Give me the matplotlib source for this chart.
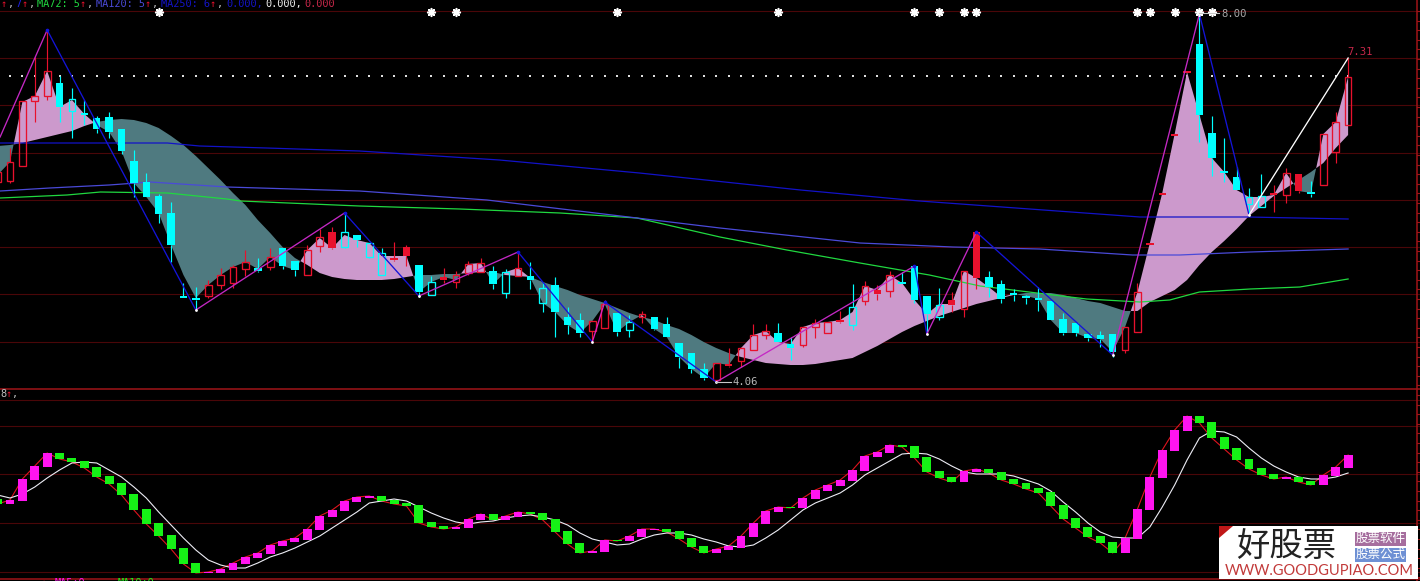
import matplotlib
matplotlib.use("Agg")
import matplotlib.pyplot as plt
from matplotlib.patches import Polygon, Rectangle
import numpy as np

body_top = [172, 162, 101, 96, 71, 83, 99, 113, 118, 117, 129, 161, 182, 196, 213, 296, 298, 285, 275, 267, 262, 268, 257, 248, 261, 250, 237, 232, 232, 235,
            243, 253, 258, 247, 265, 282, 277, 275, 264, 263, 271, 272, 268, 276, 288, 285, 317, 320, 321, 304, 313, 322, 314, 317, 324, 343, 353, 369, 363, 364,
            348, 335, 331, 333, 344, 327, 323, 322, 320, 307, 286, 290, 275, 282, 266, 296, 305, 300, 271, 232, 277, 284, 293, 296, 298, 301, 319, 323, 334, 335,
            334, 327, 292, 243, 193, 134, 71, 44, 133, 171, 177, 197, 196, 193, 173, 174, 192, 134, 122, 77]
body_bot = [182, 181, 166, 101, 96, 107, 111, 115, 129, 132, 151, 183, 197, 214, 245, 298, 300, 296, 285, 283, 269, 271, 267, 266, 270, 275, 246, 248, 247, 240,
            257, 275, 260, 256, 292, 295, 280, 282, 273, 272, 284, 293, 276, 280, 303, 312, 325, 333, 331, 328, 332, 330, 317, 329, 337, 357, 369, 378, 380, 366,
            361, 350, 335, 342, 348, 345, 327, 333, 322, 325, 301, 294, 291, 284, 300, 314, 317, 305, 309, 278, 287, 299, 295, 298, 300, 320, 333, 333, 338, 339,
            352, 350, 332, 245, 195, 136, 73, 115, 158, 173, 190, 204, 207, 195, 195, 191, 194, 185, 152, 125]
wick_high = [165, 148, 101, 57, 30, 76, 88, 100, 116, 112, 129, 150, 173, 194, 202, 283, 287, 280, 268, 265, 250, 258, 248, 248, 261, 245, 229, 227, 213, 235,
             243, 248, 242, 245, 265, 276, 268, 271, 261, 258, 266, 269, 252, 262, 282, 277, 307, 313, 321, 300, 313, 315, 311, 317, 317, 343, 353, 363, 363, 348,
             347, 324, 324, 323, 337, 327, 319, 322, 311, 284, 281, 285, 271, 272, 266, 296, 288, 292, 271, 232, 271, 280, 289, 295, 287, 301, 313, 323, 334, 331,
             334, 327, 283, 243, 193, 134, 71, 14, 116, 138, 167, 188, 174, 185, 168, 174, 181, 134, 112, 58]
wick_low = [185, 183, 166, 122, 100, 122, 138, 125, 133, 138, 154, 197, 197, 223, 262, 298, 310, 298, 289, 288, 276, 272, 270, 269, 276, 275, 252, 249, 248, 247,
            258, 275, 261, 266, 297, 295, 283, 288, 275, 272, 289, 298, 276, 289, 312, 337, 334, 337, 342, 328, 336, 337, 323, 330, 337, 368, 373, 380, 382, 367,
            367, 350, 339, 342, 360, 347, 338, 333, 323, 330, 305, 300, 297, 284, 303, 333, 320, 312, 317, 289, 297, 303, 301, 304, 311, 320, 335, 336, 341, 347,
            357, 353, 332, 245, 195, 136, 73, 142, 176, 182, 190, 213, 207, 212, 203, 193, 197, 185, 163, 125]
up_bars = [0, 1, 2, 3, 4, 17, 18, 19, 20, 22, 25, 26, 27, 32, 33, 36, 37, 38, 39, 42, 48, 49, 52, 58, 59, 60, 61, 62, 65, 66, 67, 68,
           70, 71, 72, 77, 78, 79, 91, 92, 93, 94, 95, 96, 103, 104, 105, 107, 108, 109]
filled_red = [27, 32, 33, 36, 59, 68, 71, 77, 79, 93, 94, 95, 96, 103, 105]
hollow_cyan = [6, 28, 30, 31, 35, 41, 44, 51, 69, 76, 101, 102]

band_fast = [175, 162, 102, 96, 71, 107, 100, 114, 125, 132, 151, 183, 197, 213, 245, 275, 298, 285, 275, 267, 262, 269, 257, 266, 270, 250, 238, 248, 235, 240,
             243, 256, 256, 256, 292, 282, 277, 280, 264, 263, 284, 272, 268, 278, 303, 312, 325, 333, 321, 304, 332, 322, 315, 329, 337, 357, 369, 378, 363, 365,
             348, 335, 331, 342, 344, 327, 323, 322, 320, 312, 286, 290, 275, 283, 300, 314, 304, 304, 271, 278, 287, 297, 294, 296, 299, 320, 333, 333, 338, 339,
             352, 327, 292, 243, 193, 134, 72, 115, 158, 172, 190, 197, 197, 195, 173, 191, 193, 134, 122, 77]
band_slow = [146, 145, 143, 140, 137, 134, 131, 126, 122, 120, 119, 120, 123, 128, 136, 145, 156, 168, 180, 193, 205, 220, 233, 247, 258, 265, 273, 277, 279, 280,
             280, 280, 279, 277, 275, 275, 274, 274, 273, 272, 272, 275, 276, 277, 282, 286, 290, 295, 299, 303, 308, 313, 317, 320, 325, 329, 335, 342, 348, 353,
             357, 360, 363, 364, 365, 365, 364, 362, 360, 358, 352, 346, 339, 332, 326, 321, 316, 312, 308, 304, 301, 298, 295, 293, 293, 293, 295, 298, 301, 303,
             307, 311, 311, 302, 296, 290, 280, 265, 252, 241, 229, 216, 206, 196, 188, 180, 172, 163, 148, 135]

ma72_idx = [0.2, 5.6, 8.3, 13.7, 18.5, 19.6, 29.2, 37.3, 45.4, 51.6, 58.3, 63.7, 69.6, 75.2, 79.3, 85.2, 87.9, 92.2, 94.6, 97, 101.1, 105.1, 109]
ma72_val = [198, 195, 192, 193, 199, 201, 206, 209, 213, 218, 237, 250, 263, 275, 286, 295, 299, 302, 300, 292, 289, 287, 279]
ma120_idx = [0.2, 4.2, 9, 12.3, 18.5, 29.2, 39.5, 51.6, 58.3, 69.6, 77.1, 84.1, 91.6, 95.4, 101.1, 109]
ma120_val = [191, 188, 185, 182, 187, 191, 200, 218, 228, 243, 247, 249, 255, 255, 252, 249]
ma250_idx = [0.2, 13.7, 16.3, 21.7, 29.2, 40.5, 51.8, 64.8, 74.4, 92.2, 100.9, 109]
ma250_val = [143, 143, 146, 148, 151, 160, 173, 190, 201, 217, 217, 219]

zig_idx = [0.2, 4, 16, 28, 34, 42, 48, 49, 58, 74, 75, 79, 90, 97, 101, 109]
zig_val = [137, 30, 310, 213, 296, 252, 342, 302, 382, 266, 334, 232, 355, 14, 215, 58]
zig_col = ["#C428C4", "#1414D8", "#C428C4", "#1414D8", "#C428C4", "#1414D8", "#E020C0", "#1414D8",
           "#C428C4", "#1414D8", "#C428C4", "#1414D8", "#C428C4", "#1414D8", "#FFFFFF"]

star_bars = [13, 35, 37, 50, 63, 74, 76, 78, 79, 92, 93, 95, 97, 98]
star_val = 12
dot_val = 76

osc_top = [499, 500, 479, 466, 453, 453, 458, 461, 467, 476, 483, 494, 509, 523, 535, 548, 563, 572, 569, 563, 557, 553, 545, 541, 538, 529, 516, 510, 501, 497,
           496, 496, 500, 503, 505, 522, 526, 527, 519, 514, 514, 516, 512, 512, 513, 519, 531, 543, 551, 540, 540, 536, 529, 529, 529, 531, 538, 546, 549, 546,
           536, 523, 511, 507, 507, 498, 490, 485, 480, 470, 456, 452, 445, 445, 446, 457, 471, 477, 471, 469, 469, 472, 479, 483, 488, 492, 505, 518, 527, 536,
           542, 538, 509, 477, 450, 430, 416, 416, 422, 437, 448, 459, 468, 474, 477, 477, 481, 475, 467, 455]
osc_bot = [504, 504, 501, 480, 467, 459, 462, 468, 477, 484, 495, 510, 524, 536, 549, 564, 573, 573, 573, 570, 564, 558, 554, 546, 542, 540, 530, 517, 511, 502,
           498, 501, 504, 506, 523, 527, 529, 529, 528, 520, 520, 520, 517, 514, 520, 532, 544, 553, 553, 552, 541, 541, 537, 530, 532, 539, 547, 553, 553, 550,
           548, 537, 524, 512, 508, 508, 499, 491, 486, 481, 471, 457, 453, 447, 458, 472, 478, 482, 482, 472, 473, 480, 484, 489, 493, 506, 519, 528, 537, 543,
           553, 553, 539, 510, 478, 451, 431, 423, 438, 449, 460, 469, 475, 479, 479, 482, 485, 485, 476, 468]
osc_green = [0, 5, 6, 7, 8, 9, 10, 11, 12, 13, 14, 15, 16, 31, 32, 33, 34, 35, 36, 40, 43, 44, 45, 46, 47, 50, 54, 55, 56, 57,
             64, 73, 74, 75, 76, 77, 80, 81, 82, 83, 84, 85, 86, 87, 88, 89, 90, 97, 98, 99, 100, 101, 102, 103, 105, 106]
osc_signal = [495, 498, 494, 487, 478, 470, 463, 462, 463, 470, 477, 487, 498, 512, 525, 538, 550, 560, 565, 568, 568, 563, 557, 553, 548, 542, 536, 528, 520, 512,
              503, 501, 499, 501, 507, 513, 518, 522, 524, 522, 521, 518, 516, 515, 517, 520, 525, 533, 539, 542, 545, 544, 539, 535, 533, 533, 535, 539, 542, 546,
              547, 545, 538, 530, 520, 510, 503, 498, 493, 485, 475, 468, 461, 454, 453, 454, 459, 466, 472, 474, 474, 474, 476, 480, 484, 491, 502, 512, 523, 532,
              537, 538, 538, 527, 507, 485, 460, 438, 431, 432, 437, 448, 458, 466, 472, 477, 479, 479, 477, 473]

main_grid = [11, 58, 105, 153, 200, 247, 294, 342]
osc_grid = [400, 426, 474, 523, 572]

W, H = 1420, 581
RED = "#E8112D"
CYAN = "#00FFFF"
GRID = "#4A0608"
FRAME = "#A01418"
MONO = "DejaVu Sans Mono"


def add_axes(top, bottom):
    ax = fig.add_axes([0, 1 - bottom / H, 1, (bottom - top) / H])
    ax.set_facecolor("black")
    # bar k sits at -2.4 + 12.39 k on the picture
    ax.set_xlim(2.4 / 12.39, (W + 2.4) / 12.39)
    ax.set_ylim(bottom, top)
    ax.axis("off")
    return ax


fig = plt.figure(figsize=(W / 100, H / 100), dpi=100, facecolor="black")
ax = add_axes(0, 388)
ax2 = add_axes(388, H)
over = fig.add_axes([0, 0, 1, 1], facecolor="none")
over.set_xlim(0, W)
over.set_ylim(H, 0)
over.axis("off")

bars = np.arange(len(body_top))
top = np.array(body_top)
bot = np.array(body_bot)
fast = np.array(band_fast)
slow = np.array(band_slow)

# 1) upper pane
for y in main_grid:
    ax.axhline(y, color=GRID, lw=0.8, zorder=1)
ax.scatter(bars, np.full(len(bars), dot_val), s=0.9, color="#E0E0E0", marker="s", linewidths=0, zorder=2)
ax.fill_between(bars, fast, slow, where=fast <= slow, interpolate=True, color="#CC99CC", lw=0, zorder=3)
ax.fill_between(bars, fast, slow, where=fast >= slow, interpolate=True, color="#4F7A80", lw=0, zorder=3)

ax.plot(ma72_idx, ma72_val, color="#20D840", lw=0.9, zorder=4)
ax.plot(ma120_idx, ma120_val, color="#4A4AD8", lw=0.9, zorder=4)
ax.plot(ma250_idx, ma250_val, color="#1212C8", lw=0.9, zorder=4)

for i in bars:
    col = RED if i in up_bars else CYAN
    filled = (i not in up_bars and i not in hollow_cyan) or i in filled_red
    ax.vlines(i, wick_high[i], top[i], color=col, lw=0.85, zorder=5)
    ax.vlines(i, bot[i], wick_low[i], color=col, lw=0.85, zorder=5)
    if filled:
        ax.bar(i, bot[i] - top[i], bottom=top[i], width=0.6, color=col, lw=0, zorder=5)
    else:
        ax.bar(i, bot[i] - top[i], bottom=top[i], width=0.54, facecolor="none", edgecolor=col, lw=0.95, zorder=5)

for j, col in enumerate(zig_col):
    ax.plot(zig_idx[j:j + 2], zig_val[j:j + 2], color=col, lw=0.95, zorder=6)
ax.scatter(zig_idx[1::2][:7], zig_val[1::2][:7], s=7, color="#1414D8", linewidths=0, zorder=7)
ax.scatter(zig_idx[2::2], zig_val[2::2], s=4, color="white", linewidths=0, zorder=7)
ax.scatter(star_bars, np.full(len(star_bars), star_val), s=30, color="white", marker=(8, 2, 0), linewidths=1.2, zorder=7)

# leader lines and extreme labels
ax.plot([58, 59.2], [382, 382], color="#C8C8C8", lw=0.8, zorder=7)
ax.text(59.3, 382, "4.06", color="#B8B8B8", fontsize=7.6, family=MONO, va="center", ha="left", zorder=8)
ax.plot([97, 98.6], [13, 13], color="#C8C8C8", lw=0.8, zorder=7)
ax.text(98.8, 14, "8.00", color="#A8A8A8", fontsize=7.6, family=MONO, va="center", ha="left", zorder=8)
ax.text(108.95, 52, "7.31", color="#C8284A", fontsize=7.6, family=MONO, va="center", ha="left", zorder=8)

# 2) lower pane
for y in osc_grid:
    ax2.axhline(y, color=GRID, lw=0.8, zorder=1)
close = [osc_bot[i] if i in osc_green else osc_top[i] for i in bars]
ax2.plot(bars, close, color="#E0141E", lw=0.8, zorder=2)
ax2.plot(bars, osc_signal, color="#EDEDF5", lw=0.8, zorder=3)
for i in bars:
    col = "#16F216" if i in osc_green else "#FF14F0"
    ax2.bar(i, osc_bot[i] - osc_top[i], bottom=osc_top[i], width=0.72, color=col, lw=0, zorder=4)

# 3) frame
for y in [388.5, 579]:
    over.axhline(y, color=FRAME, lw=1.1, zorder=2)
over.axvline(1417, color=FRAME, lw=1.1, zorder=2)
for y in np.arange(11, 581, 9.6):
    over.plot([1417, 1420], [y, y], color=FRAME, lw=0.8, zorder=2)

# 4) header texts (partly cut by the picture edge)
header = [(1, "↑", RED), (8, ",", "#C0C0C0"), (15, "7", "#2020E0"), (22, "↑", RED), (29, ",", "#C0C0C0"),
          (37, "MA72: 5", "#20D840"), (80, "↑", RED), (87, ",", "#C0C0C0"),
          (96, "MA120: 5", "#4A4AD8"), (145, "↑", RED), (152, ",", "#C0C0C0"),
          (161, "MA250: 6", "#1414C8"), (210, "↑", RED), (217, ",", "#C0C0C0"),
          (226, "0.000,", "#1414C8"), (265, "0.000,", "#F0F0F0"), (304, "0.000", "#C8284A")]
for x, txt, col in header:
    over.text(x, 4, txt, color=col, fontsize=7.4, family=MONO, va="center", ha="left", clip_on=True)
for x, txt, col in [(0, "8", "#C0C0C0"), (6, "↑", RED), (12, ",", "#C0C0C0")]:
    over.text(x, 394, txt, color=col, fontsize=7.4, family=MONO, va="center", ha="left")
for x, txt, col in [(41, "↑", RED), (55, "MA5:0", "#FF14F0"), (118, "MA10:0", "#16F216")]:
    over.text(x, 583.5, txt, color=col, fontsize=7.4, family=MONO, va="center", ha="left", clip_on=True)

# 5) site badge
CJK = ["Noto Sans CJK SC", "DejaVu Sans"]
over.add_patch(Rectangle((1219, 526), 199, 53, color="white", lw=0, zorder=10))
over.add_patch(Polygon([(1219, 526), (1233, 526), (1219, 538)], color="#C01818", lw=0, zorder=11))
over.text(1286.5, 546, "好股票", color="#222222", fontsize=24, family=CJK, weight="light", va="center", ha="center", zorder=12)
over.add_patch(Rectangle((1355, 532), 51, 13.5, color="#A66E9E", lw=0, zorder=11))
over.add_patch(Rectangle((1355, 548), 51, 14, color="#6E90D4", lw=0, zorder=11))
over.text(1380.5, 538.5, "股票软件", color="white", fontsize=9, family=CJK, va="center", ha="center", zorder=12)
over.text(1380.5, 554.5, "股票公式", color="white", fontsize=9, family=CJK, va="center", ha="center", zorder=12)
over.text(1319, 571, "WWW.GOODGUPIAO.COM", color="#C23A3A", fontsize=10.5, family="Lato", va="center", ha="center", zorder=12)

fig.savefig("out.png", dpi=100, facecolor="black")
